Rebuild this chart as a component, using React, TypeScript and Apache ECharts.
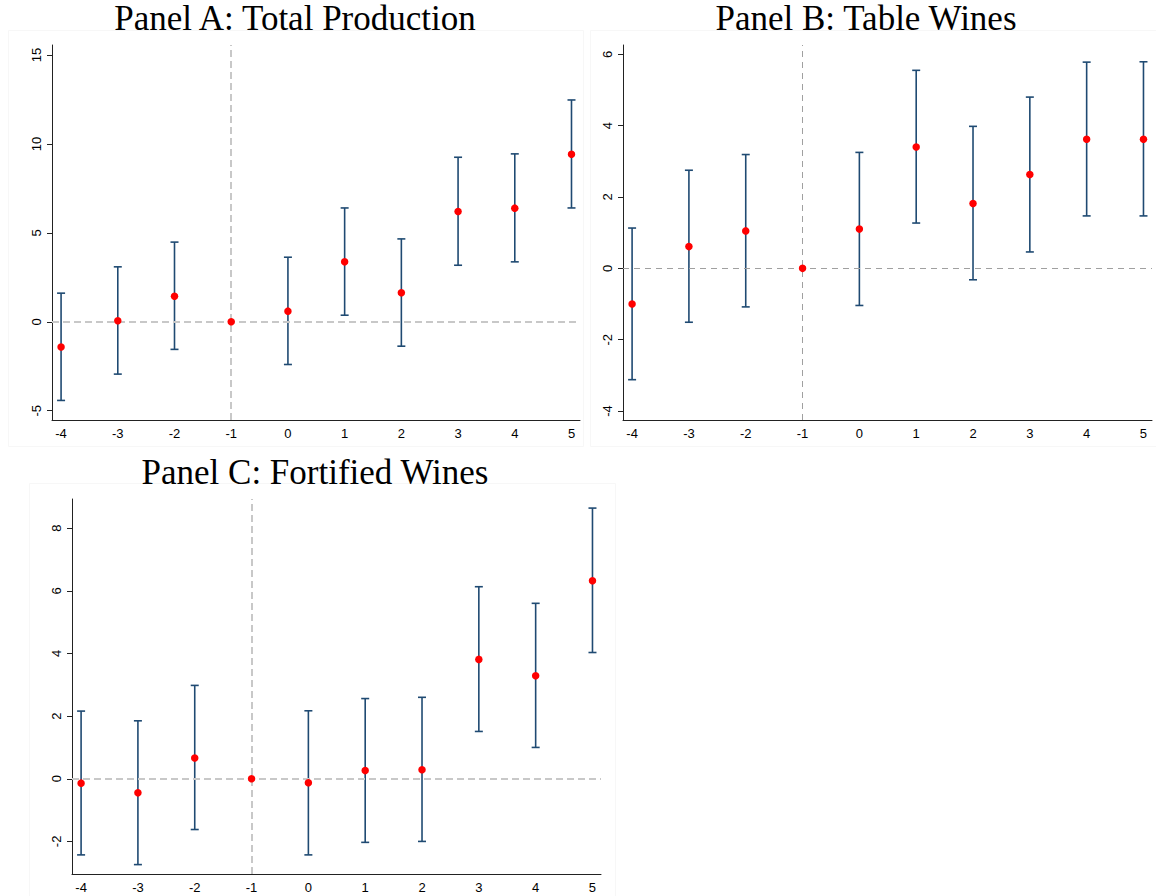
import React, { useEffect, useRef } from "react";
import * as echarts from "echarts";

// Event time (years relative to treatment)
const eventTimes = [-4, -3, -2, -1, 0, 1, 2, 3, 4, 5];

// Panel A: Total Production
const aCoef = [-1.42, 0.06, 1.44, 0, 0.6, 3.37, 1.63, 6.2, 6.39, 9.42];
const aLow = [-4.42, -2.94, -1.55, 0, -2.4, 0.37, -1.37, 3.18, 3.37, 6.4];
const aHigh = [1.61, 3.09, 4.48, 0, 3.63, 6.4, 4.66, 9.25, 9.44, 12.47];

// Panel B: Table Wines
const bCoef = [-1.0, 0.61, 1.05, 0, 1.1, 3.4, 1.82, 2.63, 3.62, 3.62];
const bLow = [-3.12, -1.51, -1.08, 0, -1.04, 1.27, -0.32, 0.46, 1.47, 1.47];
const bHigh = [1.13, 2.75, 3.19, 0, 3.25, 5.55, 3.98, 4.8, 5.78, 5.79];

// Panel C: Fortified Wines
const cCoef = [-0.14, -0.45, 0.66, 0, -0.13, 0.26, 0.29, 3.81, 3.29, 6.32];
const cLow = [-2.43, -2.74, -1.62, 0, -2.43, -2.03, -2.0, 1.51, 1.0, 4.03];
const cHigh = [2.16, 1.85, 2.98, 0, 2.17, 2.56, 2.6, 6.13, 5.6, 8.64];

// Tick labels
const xTicks = [-4, -3, -2, -1, 0, 1, 2, 3, 4, 5];
const aYTicks = [-5, 0, 5, 10, 15];
const bYTicks = [-4, -2, 0, 2, 4, 6];
const cYTicks = [-2, 0, 2, 4, 6, 8];

const titles = ["Panel A: Total Production", "Panel B: Table Wines", "Panel C: Fortified Wines"];

const BAR = "#1f4a72";
const DOT = "#ff0000";

export default function App() {
  const ref = useRef<HTMLDivElement>(null);

  useEffect(() => {
    if (!ref.current) return;
    const chart = echarts.init(ref.current, undefined, { renderer: "svg" });

    const panels = [
      { coef: aCoef, low: aLow, high: aHigh, yTicks: aYTicks, yMin: -5.52, yMax: 15.56, grid: { left: 52, top: 45, width: 528, height: 375 }, dash: { color: "#c8c8c8", width: 2, type: [7, 4] } },
      { coef: bCoef, low: bLow, high: bHigh, yTicks: bYTicks, yMin: -4.25, yMax: 6.26, grid: { left: 623, top: 45, width: 529, height: 375 }, dash: { color: "#a0a0a0", width: 1, type: [6, 5] } },
      { coef: cCoef, low: cLow, high: cHigh, yTicks: cYTicks, yMin: -3.04, yMax: 8.93, grid: { left: 72, top: 499, width: 529, height: 375 }, dash: { color: "#c8c8c8", width: 2, type: [7, 4] } },
    ];

    const grids: any[] = [];
    const xAxes: any[] = [];
    const yAxes: any[] = [];
    const series: any[] = [];

    panels.forEach((p, i) => {
      grids.push({ ...p.grid, containLabel: false });
      xAxes.push({
        type: "value",
        gridIndex: i,
        min: -4.16,
        max: 5.15,
        axisLine: { show: true, onZero: false, lineStyle: { color: "#222", width: 1 } },
        axisTick: { show: false },
        splitLine: { show: false },
        axisLabel: {
          customValues: xTicks,
          color: "#000",
          fontFamily: "Liberation Sans",
          fontSize: 13,
          margin: 7,
        },
      });
      yAxes.push({
        type: "value",
        gridIndex: i,
        min: p.yMin,
        max: p.yMax,
        axisLine: { show: true, onZero: false, lineStyle: { color: "#222", width: 1 } },
        axisTick: { show: true, length: 5, customValues: p.yTicks, lineStyle: { color: "#222" } },
        splitLine: { show: false },
        axisLabel: {
          customValues: p.yTicks,
          rotate: 90,
          color: "#000",
          fontFamily: "Liberation Sans",
          fontSize: 13,
          margin: 9,
        },
      });

      // reference lines
      series.push({
        type: "line",
        xAxisIndex: i,
        yAxisIndex: i,
        data: [],
        z: 1,
        silent: true,
        markLine: {
          silent: true,
          symbol: ["none", "none"],
          label: { show: false },
          lineStyle: { color: p.dash.color, width: p.dash.width, type: p.dash.type },
          data: [{ yAxis: 0 }, { xAxis: -1 }],
        },
      });

      // confidence intervals
      const ciData = eventTimes.map((t, k) => [t, p.low[k], p.high[k]]).filter((d) => d[1] !== d[2]);
      series.push({
        type: "custom",
        xAxisIndex: i,
        yAxisIndex: i,
        z: 2,
        silent: true,
        encode: { x: 0, y: [1, 2] },
        data: ciData,
        renderItem: (params: any, api: any) => {
          const x = api.value(0);
          const top = api.coord([x, api.value(2)]);
          const bot = api.coord([x, api.value(1)]);
          const cap = 4;
          const style = { stroke: BAR, lineWidth: 1.6 };
          return {
            type: "group",
            children: [
              { type: "line", shape: { x1: top[0], y1: top[1], x2: bot[0], y2: bot[1] }, style },
              { type: "line", shape: { x1: top[0] - cap, y1: top[1], x2: top[0] + cap, y2: top[1] }, style },
              { type: "line", shape: { x1: bot[0] - cap, y1: bot[1], x2: bot[0] + cap, y2: bot[1] }, style },
            ],
          };
        },
      });

      // point estimates
      series.push({
        type: "scatter",
        xAxisIndex: i,
        yAxisIndex: i,
        z: 10,
        symbol: "circle",
        symbolSize: 7.5,
        itemStyle: { color: DOT, opacity: 1 },
        data: eventTimes.map((t, k) => [t, p.coef[k]]),
      });
    });

    const titleFont = { fontFamily: "Liberation Serif", fontSize: 35, fill: "#000", textAlign: "center", textVerticalAlign: "middle" };

    chart.setOption({
      animation: false,
      backgroundColor: "#fff",
      grid: grids,
      xAxis: xAxes,
      yAxis: yAxes,
      series,
      graphic: [
        { type: "rect", shape: { x: 8.5, y: 30.5, width: 575, height: 416 }, style: { fill: "none", stroke: "#f7f7f7", lineWidth: 1 }, z: 0 },
        { type: "rect", shape: { x: 590.5, y: 30.5, width: 570, height: 416 }, style: { fill: "none", stroke: "#f7f7f7", lineWidth: 1 }, z: 0 },
        { type: "rect", shape: { x: 29.5, y: 483.5, width: 586, height: 420 }, style: { fill: "none", stroke: "#f7f7f7", lineWidth: 1 }, z: 0 },
        { type: "text", x: 295, y: 18, style: { text: titles[0], ...titleFont } },
        { type: "text", x: 866, y: 18, style: { text: titles[1], ...titleFont } },
        { type: "text", x: 315, y: 472, style: { text: titles[2], ...titleFont } },
      ],
    });

    return () => chart.dispose();
  }, []);

  return (
    <div
      ref={ref}
      style={{ position: "absolute", left: 0, top: 0, width: 1156, height: 896 }}
    />
  );
}
